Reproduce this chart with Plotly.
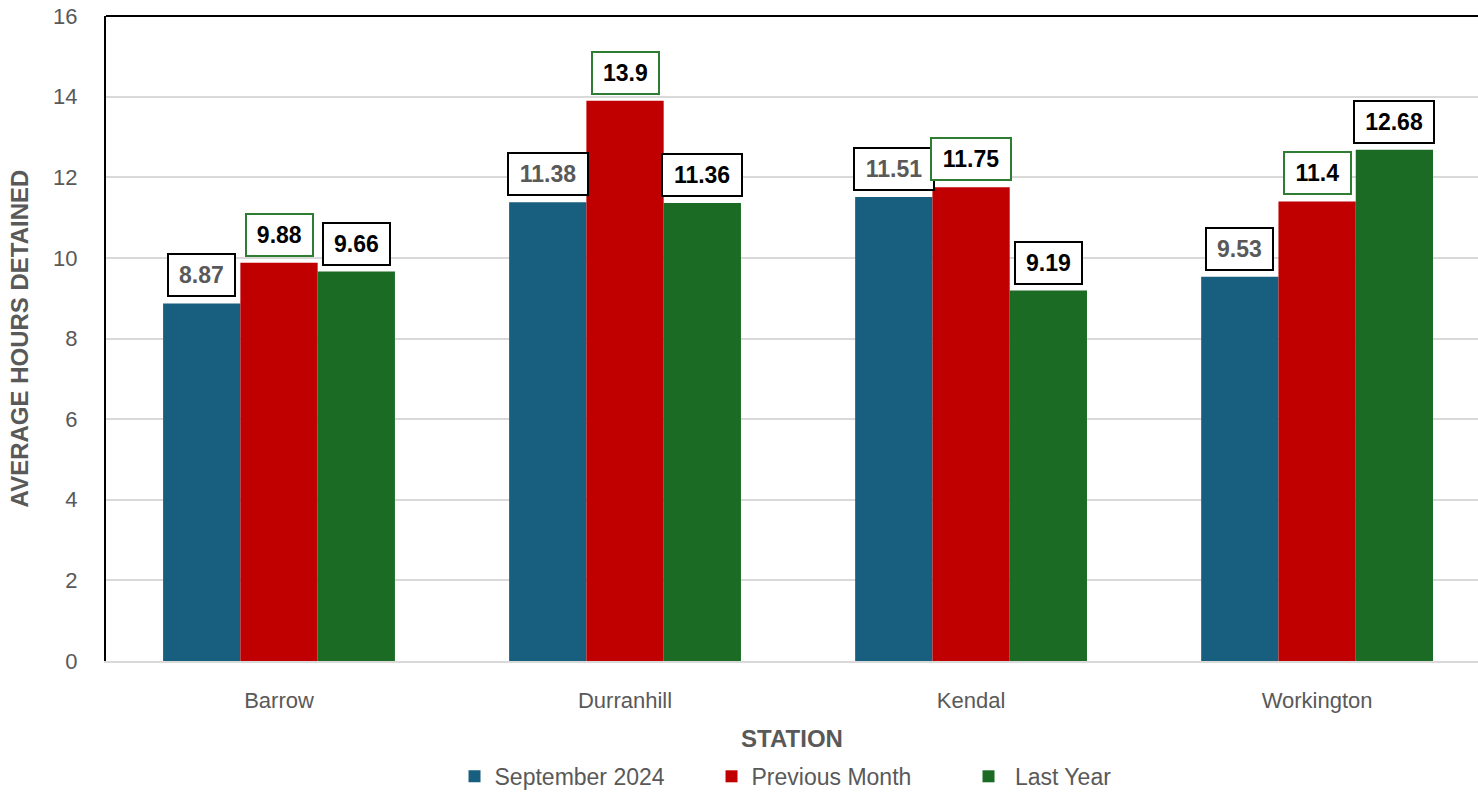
import plotly.graph_objects as go

stations = ["Barrow", "Durranhill", "Kendal", "Workington"]
series_names = ["September 2024", "Previous Month", " Last Year"]
sept_2024 = [8.87, 11.38, 11.51, 9.53]
previous_month = [9.88, 13.9, 11.75, 11.4]
last_year = [9.66, 11.36, 9.19, 12.68]
y_ticks = [0, 2, 4, 6, 8, 10, 12, 14, 16]

series_values = [sept_2024, previous_month, last_year]
bar_colors = ["#175E7F", "#C00000", "#1B6B25"]
label_text_colors = ["#595959", "#000000", "#000000"]
label_border_colors = ["#000000", "#2E7D32", "#000000"]

BARGAP = 0.33
FONT = "Liberation Sans, Arial, sans-serif"

fig = go.Figure()
for name, vals, col in zip(series_names, series_values, bar_colors):
    fig.add_trace(go.Bar(x=stations, y=vals, name=name, marker=dict(color=col, line=dict(width=0))))

def text_w(s, size):
    w = 0
    for ch in s:
        w += 0.278 if ch == "." else 0.556
    return w * size

annotations = []
n = len(series_values)
bw = (1 - BARGAP) / n
for j, vals in enumerate(series_values):
    for i, v in enumerate(vals):
        t = f"{v:g}"
        annotations.append(dict(
            x=i + (j - (n - 1) / 2) * bw, y=v, xref="x", yref="y",
            text=f"<b>{t}</b>", showarrow=False, yanchor="bottom", yshift=6,
            font=dict(family=FONT, size=23, color=label_text_colors[j]),
            bgcolor="white", bordercolor=label_border_colors[j], borderwidth=2,
            borderpad=7, width=text_w(t, 24) + 4,
        ))

fig.update_layout(
    width=1478, height=793,
    margin=dict(l=106, r=0, t=16, b=132, autoexpand=False),
    paper_bgcolor="white", plot_bgcolor="white",
    barmode="group", bargap=BARGAP, bargroupgap=0,
    font=dict(family=FONT, color="#595959"),
    annotations=annotations,
    legend=dict(orientation="h", xref="paper", x=0.535, xanchor="center",
                yref="container", y=0.021, yanchor="middle",
                font=dict(family=FONT, size=23, color="#595959"),
                entrywidth=212, itemwidth=30, traceorder="normal"),
    xaxis=dict(showgrid=False, tickfont=dict(size=22, color="#595959"),
               range=[-0.5, 3.465], automargin=False,
               ticks="outside", ticklen=0, ticklabelstandoff=19,
               showline=True, linecolor="#D9D9D9", linewidth=2,
               title=dict(text="<b>STATION</b>", font=dict(size=24, color="#595959"), standoff=18)),
    yaxis=dict(range=[0, 16], tickvals=y_ticks, showgrid=True, gridcolor="#D9D9D9", gridwidth=2,
               zeroline=False, tickfont=dict(size=22, color="#595959"), automargin=False,
               ticks="outside", ticklen=0, ticklabelstandoff=22,
               showline=True, linecolor="#000000", linewidth=2,
               title=dict(text="<b>AVERAGE HOURS DETAINED</b>", font=dict(size=24, color="#595959"), standoff=18)),
    shapes=[dict(type="line", xref="paper", yref="paper", x0=0, x1=1, y0=1, y1=1,
                 line=dict(color="#000000", width=2))],
)

fig.write_html("out.html")
